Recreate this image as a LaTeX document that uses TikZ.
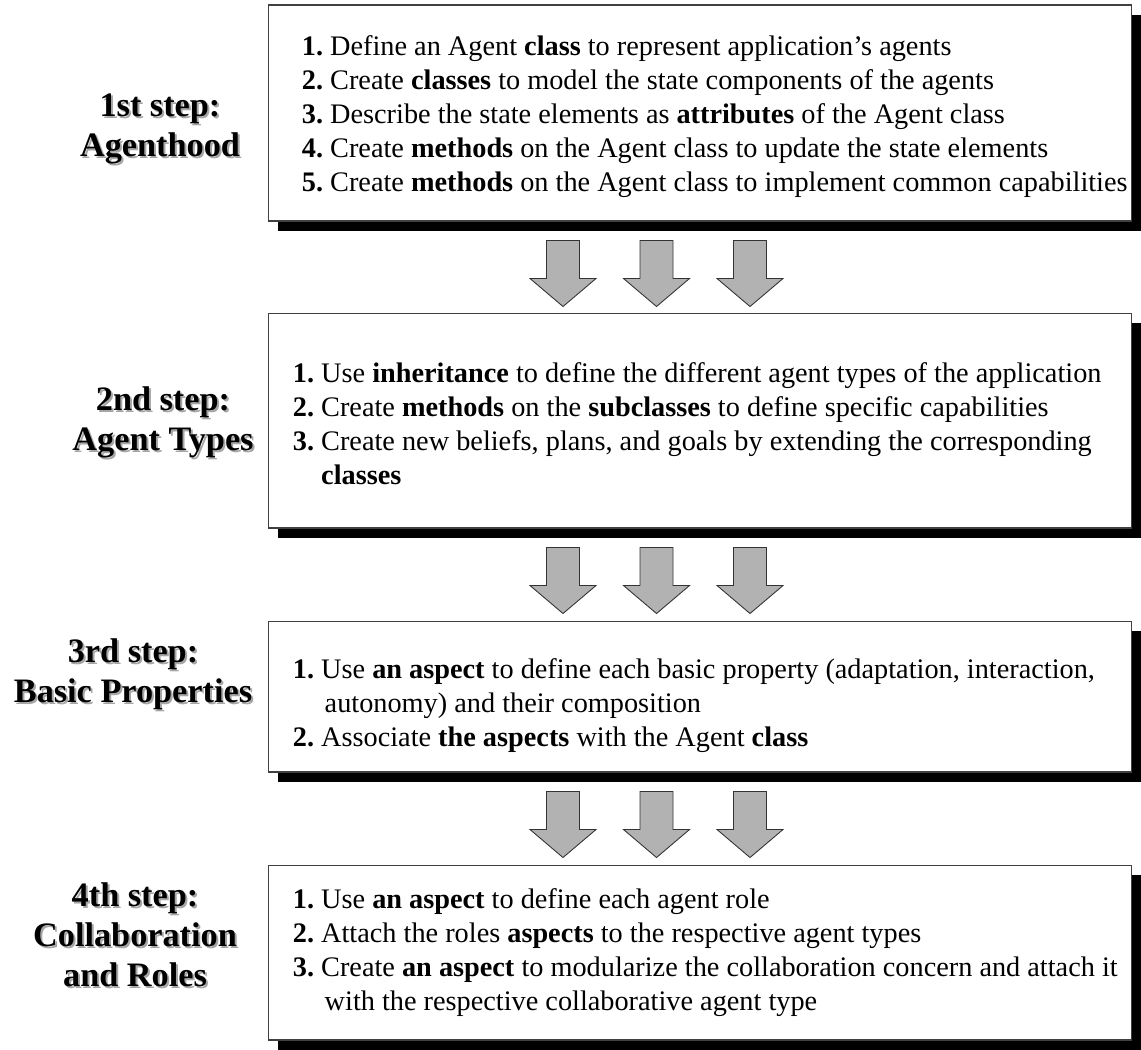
\documentclass[tikz,border=0pt]{standalone}
\usepackage{fontspec}
\setmainfont{Liberation Serif}
\usetikzlibrary{positioning,calc,shadows}

\newcommand{\itm}[1]{\textbf{#1.}~}
\newcommand{\hang}{\phantom{\textbf{1.}~}}

\begin{document}
\begin{tikzpicture}[x=0.02cm,y=-0.02cm,
  stepbox/.style={draw=black!75,line width=0.6pt,fill=white,minimum width=17.28cm,inner sep=0pt,
    drop shadow={shadow xshift=0.2cm,shadow yshift=-0.2cm,fill=black,opacity=1}},
  steptext/.style={anchor=west,align=left,inner sep=0pt,font=\fontsize{16.1}{19.35}\selectfont},
  steplabel/.style={align=center,inner sep=0pt,font=\fontsize{19.5}{22.8}\selectfont\bfseries},
  lblshadow/.style={steplabel,text=black!35},
  downarrow/.pic={\draw[fill=black!30,draw=black!80,line width=0.5pt] (-16.5,0) -- (16.5,0) -- (16.5,38) -- (33,38) -- (0,66) -- (-33,38) -- (-16.5,38) -- cycle;}]
\useasboundingbox (0,0) rectangle (1141,1049);

% the four boxes
\node[stepbox,minimum height=4.32cm] (box1) at (700,113) {};
\node[stepbox,minimum height=4.30cm] (box2) at (700,420.5) {};
\node[stepbox,minimum height=3.02cm] (box3) at (700,696.5) {};
\node[stepbox,minimum height=3.50cm] (box4) at (700,952.5) {};

\node[steptext] (txt1) at ($(box1.west)+(34,4)$) {\itm{1}Define an Agent \textbf{class} to represent application's agents\\
\itm{2}Create \textbf{classes} to model the state components of the agents\\
\itm{3}Describe the state elements as \textbf{attributes} of the Agent class\\
\itm{4}Create \textbf{methods} on the Agent class to update the state elements\\
\itm{5}Create \textbf{methods} on the Agent class to implement common capabilities};

\node[steptext] (txt2) at ($(box2.west)+(25,3)$) {\itm{1}Use \textbf{inheritance} to define the different agent types of the application\\
\itm{2}Create \textbf{methods} on the \textbf{subclasses} to define specific capabilities\\
\itm{3}Create new beliefs, plans, and goals by extending the corresponding\\
\hang\textbf{classes}};

\node[steptext] (txt3) at ($(box3.west)+(25,9)$) {\itm{1}Use \textbf{an aspect} to define each basic property (adaptation, interaction,\\
\hang\hspace{5\pgflinewidth}autonomy) and their composition\\
\itm{2}Associate \textbf{the aspects} with the Agent \textbf{class}};

\node[steptext] (txt4) at ($(box4.west)+(25,0)$) {\itm{1}Use \textbf{an aspect} to define each agent role\\
\itm{2}Attach the roles \textbf{aspects} to the respective agent types\\
\itm{3}Create \textbf{an aspect} to modularize the collaboration concern and attach it\\
\hang\hspace{5\pgflinewidth}with the respective collaborative agent type};

% block arrows between the boxes
\foreach \b in {box1,box2,box3}{
  \foreach \dx in {-137,-43.5,50}
    \pic at ($(\b.south)+(\dx,19)$) {downarrow};
}

% step labels
\node[lblshadow] at (162,131) {1st step:\\Agenthood};
\node[steplabel] (lab1) at (160,129) {1st step:\\Agenthood};
\node[lblshadow] at (165,424) {2nd step:\\Agent Types};
\node[steplabel] (lab2) at (163,422) {2nd step:\\Agent Types};
\node[lblshadow] at (135,676) {3rd step:\\Basic Properties};
\node[steplabel] (lab3) at (133,674) {3rd step:\\Basic Properties};
\node[lblshadow] at (137,937) {4th step:\\Collaboration\\and Roles};
\node[steplabel] (lab4) at (135,935) {4th step:\\Collaboration\\and Roles};
\end{tikzpicture}
\end{document}
